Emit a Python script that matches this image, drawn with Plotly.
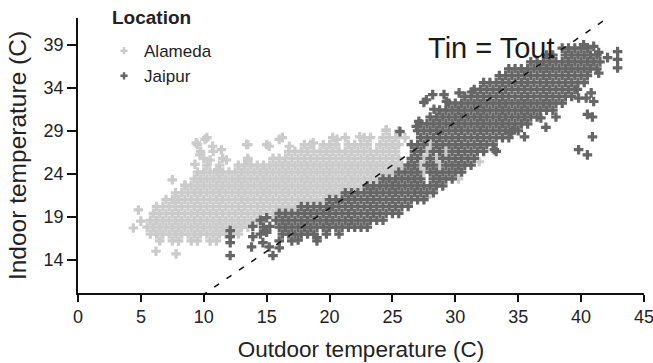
import plotly.graph_objects as go

# ---------------- data ----------------
# Alameda: dense cloud given row by row (indoor temperature of the row, outdoor values on that row)
alameda_row_y = [16.2, 17.0, 17.8, 18.6, 19.4, 20.2, 21.0, 21.8, 22.6, 23.4, 24.2, 25.0, 25.8, 26.6, 27.4, 28.2, 29.0]
alameda_row_x = [
    [6.5, 7.5, 8.0, 9.0, 9.5, 10.5, 11.0],
    [5.75, 6.25, 6.75, 7.25, 7.75, 8.25, 8.75, 9.25, 9.75, 10.25, 10.75, 11.25, 11.75, 12.25, 12.75],
    [5.5, 6.0, 6.5, 7.0, 7.5, 8.0, 8.5, 9.0, 9.5, 10.0, 10.5, 11.0, 11.5, 12.0, 12.5, 13.0, 13.5],
    [5.75, 6.25, 6.75, 7.25, 7.75, 8.25, 8.75, 9.25, 9.75, 10.25, 10.75, 11.25, 11.75, 12.25, 12.75, 13.25, 13.75, 14.25],
    [6.0, 6.5, 7.0, 7.5, 8.0, 8.5, 9.0, 9.5, 10.0, 10.5, 11.0, 11.5, 12.0, 12.5, 13.0, 13.5, 14.0, 14.5, 15.0, 15.5, 16.0, 16.5],
    [6.25, 6.75, 7.25, 7.75, 8.25, 8.75, 9.25, 9.75, 10.25, 10.75, 11.25, 11.75, 12.25, 12.75, 13.25, 13.75, 14.25, 14.75,
     15.25, 15.75, 16.25, 16.75, 17.25, 17.75, 18.25, 18.75, 19.25],
    [7.0, 7.5, 8.0, 8.5, 9.0, 9.5, 10.0, 10.5, 11.0, 11.5, 12.0, 12.5, 13.0, 13.5, 14.0, 14.5, 15.0, 15.5, 16.0, 16.5,
     17.0, 17.5, 18.0, 18.5, 19.0, 19.5, 20.0, 20.5],
    [7.75, 8.25, 8.75, 9.25, 9.75, 10.25, 10.75, 11.25, 11.75, 12.25, 12.75, 13.25, 13.75, 14.25, 14.75, 15.25, 15.75,
     16.25, 16.75, 17.25, 17.75, 18.25, 18.75, 19.25, 19.75, 20.25, 20.75, 21.25, 21.75],
    [8.5, 9.0, 9.5, 10.0, 10.5, 11.0, 11.5, 12.0, 12.5, 13.0, 13.5, 14.0, 14.5, 15.0, 15.5, 16.0, 16.5, 17.0, 17.5, 18.0,
     18.5, 19.0, 19.5, 20.0, 20.5, 21.0, 21.5, 22.0, 22.5],
    [9.25, 9.75, 10.25, 10.75, 11.25, 11.75, 12.25, 12.75, 13.25, 13.75, 14.25, 14.75, 15.25, 15.75, 16.25, 16.75, 17.25,
     17.75, 18.25, 18.75, 19.25, 19.75, 20.25, 20.75, 21.25, 21.75, 22.25, 22.75, 23.25, 23.75, 24.25],
    [9.5, 10.0, 10.5, 11.0, 11.5, 12.0, 12.5, 13.0, 13.5, 14.0, 14.5, 15.0, 15.5, 16.0, 16.5, 17.0, 17.5, 18.0, 18.5,
     19.0, 19.5, 20.0, 20.5, 21.0, 21.5, 22.0, 22.5, 23.0, 23.5, 24.0, 24.5, 25.0],
    [10.25, 11.25, 12.75, 13.25, 13.75, 14.25, 14.75, 15.25, 15.75, 16.25, 16.75, 17.25, 17.75, 18.25, 18.75, 19.25,
     19.75, 20.25, 20.75, 21.25, 21.75, 22.25, 22.75, 23.25, 23.75, 24.25, 24.75, 25.25, 25.75],
    [10.0, 11.5, 13.5, 15.5, 16.0, 16.5, 17.0, 17.5, 18.0, 18.5, 19.0, 19.5, 20.0, 20.5, 21.0, 21.5, 22.0, 22.5, 23.0,
     23.5, 24.0, 24.5, 25.0, 25.5],
    [9.75, 10.75, 16.75, 17.25, 17.75, 18.25, 18.75, 19.25, 19.75, 20.25, 20.75, 21.25, 21.75, 22.25, 22.75, 23.25,
     23.75, 24.25, 24.75, 25.25],
    [9.5, 13.5, 15.0, 18.0, 18.5, 19.5, 20.0, 20.5, 21.5, 22.0, 22.5, 23.0, 24.0, 24.5, 25.0],
    [10.25, 16.25, 20.25, 21.25, 22.75, 23.25, 24.25, 24.75, 25.25],
    [24.5, 25.5],
]
# Alameda scattered points
alameda_extra_x = [4.4, 4.8, 6.2, 7.8, 7.5, 7.7, 8.5, 9.4, 10.1, 10.7, 9.7, 10.5, 11.4, 11.8, 9.3, 11.1, 13.4, 13.5,
                   15.2, 16.0, 16.8, 18.7, 20.6, 22.4, 24.5, 5.0,
                   27.5, 28.5, 27.25, 28.25, 28.75, 27.5, 28.5, 29.0, 27.75, 28.75, 29.25, 28.0, 29.5, 31.9, 27.7,
                   30.25, 26.0, 25.5]
alameda_extra_y = [17.7, 19.8, 15.0, 14.7, 23.3, 21.0, 22.7, 27.6, 28.0, 27.2, 26.2, 25.6, 26.8, 25.6, 25.1, 24.5, 27.4,
                   25.6, 27.2, 28.0, 27.2, 27.6, 28.0, 28.3, 29.1, 18.5,
                   24.2, 24.2, 25.0, 25.0, 25.0, 25.8, 25.8, 25.8, 26.6, 26.6, 26.6, 27.4, 27.4, 25.4, 21.3,
                   23.4, 28.2, 27.4]

# Jaipur: dense band given row by row
jaipur_row_y = [16.2, 17.0, 17.8, 18.6, 19.4, 20.2, 21.0, 21.8, 22.6, 23.4, 24.2, 25.0, 25.8, 26.6, 27.4, 28.2, 29.0,
                29.8, 30.6, 31.4, 32.2, 33.0, 33.8, 34.6, 35.4, 36.2, 37.0, 37.8, 38.6]
jaipur_row_x = [
    [16.0, 17.0, 19.0],
    [16.25, 16.75, 17.25, 17.75, 18.25, 18.75, 19.75, 20.75],
    [16.0, 16.5, 17.0, 17.5, 18.0, 18.5, 19.0, 19.5, 20.0, 20.5, 21.0, 21.5, 22.0, 22.5, 23.0],
    [15.75, 16.25, 16.75, 17.25, 17.75, 18.25, 18.75, 19.25, 19.75, 20.25, 20.75, 21.25, 21.75, 22.25, 22.75, 23.25,
     23.75, 24.25],
    [16.0, 16.5, 17.0, 17.5, 18.0, 18.5, 19.0, 19.5, 20.0, 20.5, 21.0, 21.5, 22.0, 22.5, 23.0, 23.5, 24.0, 24.5, 25.0, 25.5],
    [17.75, 18.25, 18.75, 19.25, 19.75, 20.25, 20.75, 21.25, 21.75, 22.25, 22.75, 23.25, 23.75, 24.25, 24.75, 25.25,
     25.75, 26.25],
    [20.0, 20.5, 21.0, 21.5, 22.0, 22.5, 23.0, 23.5, 24.0, 24.5, 25.0, 25.5, 26.0, 26.5, 27.0, 27.5],
    [21.25, 21.75, 22.25, 22.75, 23.25, 23.75, 24.25, 24.75, 25.25, 25.75, 26.25, 26.75, 27.25, 27.75, 28.25],
    [23.0, 23.5, 24.0, 24.5, 25.0, 25.5, 26.0, 26.5, 27.0, 27.5, 28.0, 28.5, 29.0],
    [24.25, 24.75, 25.25, 25.75, 26.25, 26.75, 27.25, 28.25, 28.75, 29.25, 29.75],
    [25.5, 26.0, 26.5, 27.0, 28.0, 28.5, 29.0, 29.5, 30.0, 30.5],
    [26.25, 26.75, 27.75, 28.25, 29.25, 29.75, 30.25, 30.75, 31.25],
    [26.5, 27.0, 28.0, 29.0, 29.5, 30.0, 30.5, 31.0, 31.5],
    [26.75, 27.25, 28.25, 28.75, 29.75, 30.25, 30.75, 31.25, 31.75, 32.25, 33.25],
    [26.5, 27.0, 27.5, 28.5, 29.0, 29.5, 30.0, 30.5, 31.0, 31.5, 32.0, 32.5, 33.0],
    [27.25, 27.75, 28.25, 28.75, 29.25, 29.75, 30.25, 30.75, 31.25, 31.75, 32.25, 32.75, 33.25, 33.75, 34.25],
    [27.0, 27.5, 28.0, 28.5, 29.0, 29.5, 30.0, 30.5, 31.0, 31.5, 32.0, 32.5, 33.0, 33.5, 34.0, 34.5, 35.0],
    [27.25, 27.75, 28.25, 28.75, 29.25, 29.75, 30.25, 30.75, 31.25, 31.75, 32.25, 32.75, 33.25, 33.75, 34.25, 34.75,
     35.25, 35.75],
    [28.0, 28.5, 29.0, 29.5, 30.0, 30.5, 31.0, 31.5, 32.0, 32.5, 33.0, 33.5, 34.0, 34.5, 35.0, 35.5, 36.0, 36.5],
    [28.75, 29.25, 29.75, 30.25, 30.75, 31.25, 31.75, 32.25, 32.75, 33.25, 33.75, 34.25, 34.75, 35.25, 35.75, 36.25,
     36.75, 37.25, 37.75],
    [29.5, 30.0, 30.5, 31.0, 31.5, 32.0, 32.5, 33.0, 33.5, 34.0, 34.5, 35.0, 35.5, 36.0, 36.5, 37.0, 37.5, 38.0, 38.5],
    [30.75, 31.25, 31.75, 32.25, 32.75, 33.25, 33.75, 34.25, 34.75, 35.25, 35.75, 36.25, 36.75, 37.25, 37.75, 38.25,
     38.75, 39.25],
    [31.5, 32.0, 32.5, 33.0, 33.5, 34.0, 34.5, 35.0, 35.5, 36.0, 36.5, 37.0, 37.5, 38.0, 38.5, 39.0, 39.5],
    [32.25, 32.75, 33.25, 33.75, 34.25, 34.75, 35.25, 35.75, 36.25, 36.75, 37.25, 37.75, 38.25, 38.75, 39.25, 39.75,
     40.25],
    [33.5, 34.0, 34.5, 35.0, 35.5, 36.0, 36.5, 37.0, 37.5, 38.0, 38.5, 39.0, 39.5, 40.0, 40.5],
    [34.25, 34.75, 35.25, 35.75, 36.25, 36.75, 37.25, 37.75, 38.25, 38.75, 39.25, 39.75, 40.25, 40.75, 41.25],
    [36.0, 36.5, 37.0, 37.5, 38.0, 38.5, 39.0, 39.5, 40.0, 40.5, 41.0, 41.5],
    [37.25, 37.75, 38.75, 39.25, 39.75, 40.25, 40.75, 41.25],
    [38.5, 39.0, 39.5, 40.0, 40.5],
]
# Jaipur scattered points
jaipur_extra_x = [12.1, 12.1, 12.1, 12.1, 13.9, 13.9, 13.8, 15.2, 15.5, 16.0, 14.7, 14.5, 15.0, 14.75, 15.25, 14.5,
                  15.0, 19.0, 17.5,
                  25.6, 26.9, 27.1, 27.5, 27.7, 28.2, 29.1, 28.3, 29.3, 30.3, 31.3,
                  42.9, 42.9, 42.9, 42.1, 41.4, 41.4, 40.2, 41.0,
                  39.8, 40.4, 39.7, 40.9, 40.5, 40.9, 39.8, 40.5, 36.8, 37.2, 34.4, 34.7, 33.1, 41.0, 40.8, 38.0, 35.5]
jaipur_extra_y = [16.7, 16.0, 14.5, 17.4, 17.9, 16.7, 15.5, 15.5, 14.5, 15.4, 16.0, 17.0, 17.2, 17.8, 17.9, 18.6,
                  18.9, 16.6, 16.3,
                  28.9, 29.5, 30.1, 32.3, 32.6, 33.2, 33.2, 31.5, 32.4, 33.4, 33.5,
                  38.2, 37.3, 36.3, 37.5, 35.7, 38.1, 39.0, 38.8,
                  32.8, 32.8, 33.8, 30.6, 30.9, 28.3, 26.8, 26.2, 30.5, 29.4, 28.8, 29.1, 26.8, 32.4, 33.4, 30.6, 28.3]

x_ticks = [0, 5, 10, 15, 20, 25, 30, 35, 40, 45]
y_ticks = [14, 19, 24, 29, 34, 39]
ref_line = [0, 45]

# ---------------- build ----------------
def flatten(row_y, row_x, ex_x, ex_y):
    xs, ys = [], []
    for yv, row in zip(row_y, row_x):
        for xv in row:
            xs.append(xv)
            ys.append(yv)
    return xs + ex_x, ys + ex_y

ax, ay = flatten(alameda_row_y, alameda_row_x, alameda_extra_x, alameda_extra_y)
jx, jy = flatten(jaipur_row_y, jaipur_row_x, jaipur_extra_x, jaipur_extra_y)

FONT = "Liberation Sans, Arial, sans-serif"
C_ALA = "#cbcbcb"
C_JAI = "#666666"
fig = go.Figure()
fig.add_trace(go.Scatter(x=ax, y=ay, mode="markers", name="Alameda", showlegend=False,
                         marker=dict(symbol="cross", size=8, color=C_ALA, line=dict(width=0))))
fig.add_trace(go.Scatter(x=jx, y=jy, mode="markers", name="Jaipur", showlegend=False,
                         marker=dict(symbol="cross", size=8, color=C_JAI, line=dict(width=0))))
fig.add_trace(go.Scatter(x=ref_line, y=ref_line, mode="lines", showlegend=False, hoverinfo="skip",
                         line=dict(color="#111111", width=1.5, dash="6px,9px")))
# legend entries (small symbols as in the reference key)
fig.add_trace(go.Scatter(x=[None], y=[None], mode="markers", name="Alameda",
                         marker=dict(symbol="cross", size=6, color=C_ALA, line=dict(width=0))))
fig.add_trace(go.Scatter(x=[None], y=[None], mode="markers", name="Jaipur",
                         marker=dict(symbol="cross", size=6, color=C_JAI, line=dict(width=0))))

fig.add_annotation(x=32.9, y=38.65, text="Tin = Tout", showarrow=False, xanchor="center", yanchor="middle",
                   font=dict(family=FONT, size=29, color="#1a1a1a"))
fig.add_annotation(xref="paper", yref="paper", x=0.0565, y=1.0036, text="<b>Location</b>", showarrow=False,
                   xanchor="left", yanchor="middle", font=dict(family=FONT, size=19, color="#222222"))

fig.update_layout(
    width=653, height=363,
    margin=dict(l=78, r=9, t=18, b=70),
    paper_bgcolor="white", plot_bgcolor="white",
    font=dict(family=FONT, color="#222222"),
    showlegend=True,
    legend=dict(x=0.046, y=0.945, xanchor="left", yanchor="top", bgcolor="rgba(0,0,0,0)",
                font=dict(size=17, family=FONT), tracegroupgap=0),
    xaxis=dict(range=[0, 45.0], tickvals=x_ticks, ticks="outside", ticklen=7, tickwidth=1.5, tickcolor="#111",
               showline=True, linecolor="#111", linewidth=1.5, showgrid=False, zeroline=False,
               ticklabeloverflow="allow", automargin=False,
               tickfont=dict(size=18, family=FONT),
               title=dict(text="Outdoor temperature (C)", font=dict(size=22.5, family=FONT), standoff=15)),
    yaxis=dict(range=[10.15, 42.1], tickvals=y_ticks, ticks="outside", ticklen=9, tickwidth=1.5, tickcolor="#111",
               showline=True, linecolor="#111", linewidth=1.5, showgrid=False, zeroline=False,
               automargin=False,
               tickfont=dict(size=18, family=FONT),
               title=dict(text="Indoor temperature (C)", font=dict(size=24.5, family=FONT), standoff=10)),
)

fig.write_html("out.html")
